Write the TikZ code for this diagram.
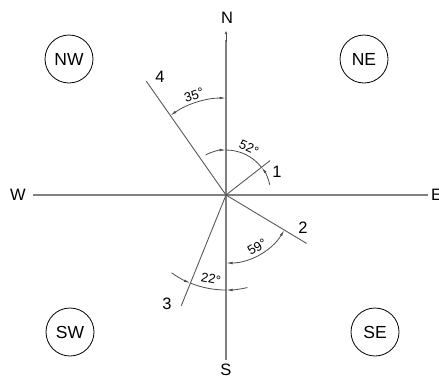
\documentclass[tikz,border=0pt]{standalone}
\usepackage{fontspec}
\setmainfont{Liberation Sans}
\usetikzlibrary{arrows.meta}
\tikzset{
  axis/.style={draw=black!50, line width=1.6pt},
  ray/.style={draw=black!65, line width=0.9pt},
  dimarc/.style={draw=black!70, line width=0.8pt},
  tip/.style={-{Latex[length=6.5pt,width=2.6pt]}},
  tips/.style={{Latex[length=6.5pt,width=2.6pt]}-{Latex[length=6.5pt,width=2.6pt]}},
  lbl/.style={font=\fontsize{16.5}{18}\selectfont, inner sep=0pt},
  ang/.style={font=\fontsize{13}{14}\selectfont, inner sep=0pt},
  zone/.style={draw=black, line width=0.8pt, circle, minimum size=48pt, inner sep=0pt, font=\fontsize{17.5}{19}\selectfont}
}
\begin{document}
\begin{tikzpicture}[x=1pt,y=1pt]
\useasboundingbox (0,0) rectangle (439,-378);
\coordinate (O) at (226,-195);
% axes
\coordinate (wEnd) at (33,-195);
\coordinate (eEnd) at (428,-195);
\coordinate (nEnd) at (226,-30);
\coordinate (sEnd) at (226,-360);
\draw[axis] (wEnd) -- (eEnd);
\draw[axis] (sEnd) -- (226,-40);
\draw[black!70, line width=0.8pt, -{Latex[length=4pt,width=2.4pt]}] (226,-42) -- (nEnd);
\node[lbl] (N) at (227,-18) {N};
\node[lbl] (S) at (226,-369.5) {S};
\node[lbl] (W) at (18,-195) {W};
\node[lbl, anchor=west] (E) at (431,-195) {E};
% zone circles
\node[zone] (NW) at (69,-59) {NW};
\node[zone] (NE) at (364,-59) {NE};
\node[zone] (SW) at (70,-332) {SW};
\node[zone] (SE) at (375,-332) {SE};
% rays
\path (O) ++(38:56) coordinate (p1);
\path (O) ++(-31:94) coordinate (p2);
\path (O) ++(-112:119.5) coordinate (p3);
\path (O) ++(125:139) coordinate (p4);
\draw[ray] (O) -- (p1);
\draw[ray] (O) -- (p2);
\draw[ray] (O) -- (p3);
\draw[ray] (O) -- (p4);
\node[lbl] (n1) at (277,-172) {1};
\node[lbl] (n2) at (303,-228) {2};
\node[lbl] (n3) at (167,-304) {3};
\node[lbl] (n4) at (160,-77) {4};
% 35 deg
\draw[dimarc, tips] (O) ++(90:97) arc[start angle=90, end angle=125, radius=97];
\node[ang, rotate=17] (a35) at (194,-95) {35°};
% 52 deg (arrows outside)
\draw[dimarc, tip] (O) ++(117:45) arc[start angle=117, end angle=90, radius=45];
\draw[dimarc] (O) ++(90:45) arc[start angle=90, end angle=38, radius=45];
\draw[dimarc, tip] (O) ++(13:45) arc[start angle=13, end angle=38, radius=45];
\node[ang, rotate=-25] (a52) at (249,-148) {52°};
% 59 deg
\draw[dimarc, tips] (O) ++(-90:68) arc[start angle=-90, end angle=-31, radius=68];
\node[ang, rotate=31] (a59) at (257,-247) {59°};
% 22 deg (arrows outside)
\draw[dimarc, tip] (O) ++(-125:95) arc[start angle=-125, end angle=-112, radius=95];
\draw[dimarc] (O) ++(-112:95) arc[start angle=-112, end angle=-90, radius=95];
\draw[dimarc, tip] (O) ++(-77:95) arc[start angle=-77, end angle=-90, radius=95];
\node[ang, rotate=-11] (a22) at (211,-279) {22°};
\end{tikzpicture}
\end{document}
